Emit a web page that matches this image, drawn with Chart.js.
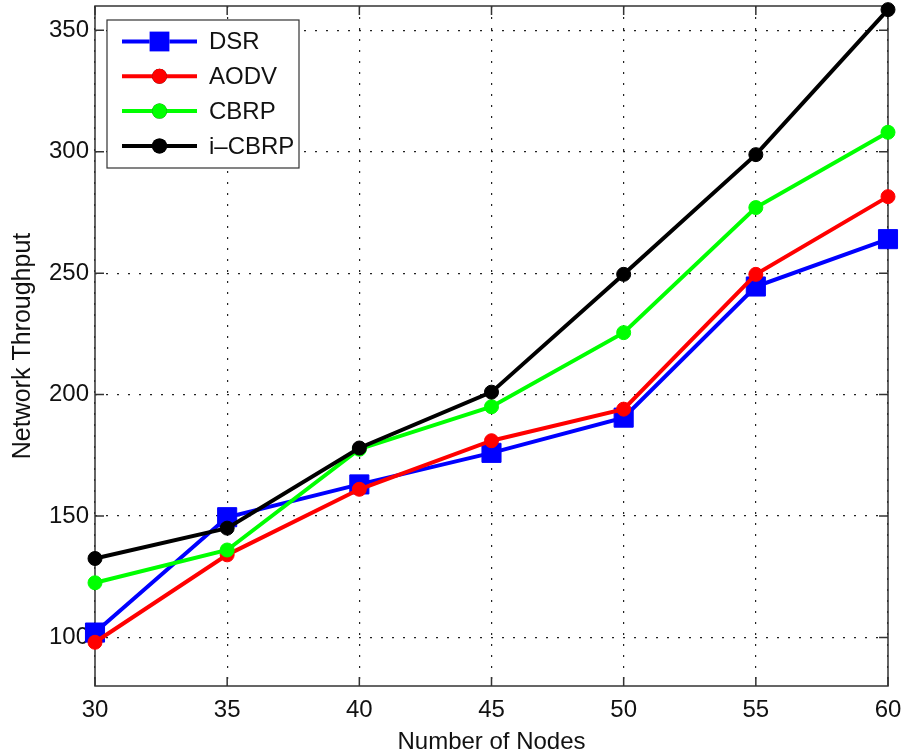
<!DOCTYPE html>
<html>
<head>
<meta charset="utf-8">
<script src="https://cdn.jsdelivr.net/npm/chart.js@4"></script>
<style>
    body { margin: 0; background: #fff; }
    #wrap { width: 904px; height: 754px; }
</style>
</head>
<body>
<div id="wrap"><canvas id="myChart" width="904" height="754"></canvas></div>
<script>
// values
var nodes = [30, 35, 40, 45, 50, 55, 60];
var dsr = [102, 149.5, 163, 176, 190.5, 244.5, 264];
var aodv = [98, 134, 161, 181, 194, 249.5, 281.5];
var cbrp = [122.5, 136, 177.5, 195, 225.5, 277, 308];
var icbrp = [132.5, 145, 178, 201, 249.5, 298.8, 358.5];

var seriesNames = ["DSR", "AODV", "CBRP", "i\u2013CBRP"];
var xTicks = [30, 35, 40, 45, 50, 55, 60];
var yTicks = [100, 150, 200, 250, 300, 350];

var FONT = "'Liberation Sans', Arial, sans-serif";
var AXIS = "#333333";

function toPoints(values) {
    var pts = [];
    for (var i = 0; i < nodes.length; i++) {
        pts.push({ x: nodes[i], y: values[i] });
    }
    return pts;
}

function makeSet(label, values, color, style, radius, order) {
    return {
        label: label,
        data: toPoints(values),
        borderColor: color,
        backgroundColor: color,
        borderWidth: 4,
        pointStyle: style,
        pointRadius: radius,
        pointHoverRadius: radius,
        pointBorderWidth: 1,
        pointBorderColor: color,
        pointBackgroundColor: color,
        order: order,
        clip: false,
    };
}

// MATLAB style box, inward ticks and the framed legend
var matlabFrame = {
    id: "matlabFrame",
    beforeDatasetsDraw: function (chart) {
        var ctx = chart.ctx;
        var a = chart.chartArea;
        var xs = chart.scales.x;
        var ys = chart.scales.y;
        var tl = 9;
        ctx.save();
        ctx.strokeStyle = AXIS;
        ctx.lineWidth = 1.5;
        ctx.strokeRect(a.left, a.top, a.right - a.left, a.bottom - a.top);
        ctx.beginPath();
        xTicks.forEach(function (v) {
            var px = xs.getPixelForValue(v);
            ctx.moveTo(px, a.bottom);
            ctx.lineTo(px, a.bottom - tl);
            ctx.moveTo(px, a.top);
            ctx.lineTo(px, a.top + tl);
        });
        yTicks.forEach(function (v) {
            var py = ys.getPixelForValue(v);
            ctx.moveTo(a.left, py);
            ctx.lineTo(a.left + tl, py);
            ctx.moveTo(a.right, py);
            ctx.lineTo(a.right - tl, py);
        });
        ctx.stroke();
        ctx.restore();
    },
    afterDatasetsDraw: function (chart) {
        var ctx = chart.ctx;
        var a = chart.chartArea;
        ctx.save();
        // legend
        var bx = a.left + 12, by = a.top + 14, bw = 192, bh = 148;
        ctx.fillStyle = "#fff";
        ctx.fillRect(bx, by, bw, bh);
        ctx.strokeStyle = AXIS;
        ctx.lineWidth = 1.2;
        ctx.strokeRect(bx, by, bw, bh);
        ctx.font = "24px " + FONT;
        ctx.textBaseline = "middle";
        chart.data.datasets.forEach(function (ds, i) {
            var cy = by + 21.5 + i * 34.8;
            var x0 = bx + 15, x1 = bx + 90;
            ctx.strokeStyle = ds.borderColor;
            ctx.lineWidth = ds.borderWidth;
            ctx.beginPath();
            ctx.moveTo(x0, cy);
            ctx.lineTo(x1, cy);
            ctx.stroke();
            Chart.helpers.drawPoint(ctx, {
                pointStyle: ds.pointStyle,
                radius: ds.pointRadius + 0.5,
                borderWidth: 0,
                rotation: 0,
            }, (x0 + x1) / 2, cy);
            ctx.fillStyle = ds.borderColor;
            ctx.fill();
            ctx.fillStyle = "#111";
            ctx.fillText(ds.label, bx + 102, cy + 1);
        });
        ctx.restore();
    },
};

var chartCtx = document.getElementById("myChart");
var myChart = new Chart(chartCtx, {
    type: "line",
    data: {
        datasets: [
            makeSet(seriesNames[0], dsr, "#0000ff", "rect", 13.5, 4),
            makeSet(seriesNames[1], aodv, "#ff0000", "circle", 7, 3),
            makeSet(seriesNames[2], cbrp, "#00ff00", "circle", 7, 2),
            makeSet(seriesNames[3], icbrp, "#000000", "circle", 7, 1),
        ],
    },
    options: {
        responsive: false,
        devicePixelRatio: 1,
        animation: false,
        layout: {
            autoPadding: false,
            padding: { left: 0, right: 16, top: 6, bottom: 0 },
        },
        plugins: {
            legend: { display: false },
            tooltip: { enabled: false },
        },
        scales: {
            x: {
                type: "linear",
                min: 30,
                max: 60,
                afterBuildTicks: function (scale) {
                    scale.ticks = xTicks.map(function (v) { return { value: v }; });
                },
                afterFit: function (scale) {
                    scale.height = 68;
                    scale.paddingLeft = 0;
                    scale.paddingRight = 0;
                },
                ticks: {
                    color: "#111",
                    font: { family: FONT, size: 24 },
                    padding: 10,
                    maxRotation: 0,
                },
                grid: {
                    color: "#222",
                    lineWidth: 1.2,
                    drawTicks: false,
                },
                border: { display: false, dash: [2, 9] },
                title: {
                    display: true,
                    text: "Number of Nodes",
                    color: "#111",
                    font: { family: FONT, size: 24, lineHeight: 1 },
                    padding: { top: 0, bottom: 0 },
                },
            },
            y: {
                type: "linear",
                min: 80,
                max: 360,
                afterBuildTicks: function (scale) {
                    scale.ticks = yTicks.map(function (v) { return { value: v }; });
                },
                afterFit: function (scale) {
                    scale.width = 95;
                    scale.paddingTop = 0;
                    scale.paddingBottom = 0;
                },
                ticks: {
                    color: "#111",
                    font: { family: FONT, size: 24 },
                    padding: 6,
                },
                grid: {
                    color: "#222",
                    lineWidth: 1.2,
                    drawTicks: false,
                },
                border: { display: false, dash: [2, 9] },
                title: {
                    display: true,
                    text: "Network Throughput",
                    color: "#111",
                    font: { family: FONT, size: 25 },
                    padding: { top: 8, bottom: 0 },
                },
            },
        },
    },
    plugins: [matlabFrame],
});
</script>
</body>
</html>
